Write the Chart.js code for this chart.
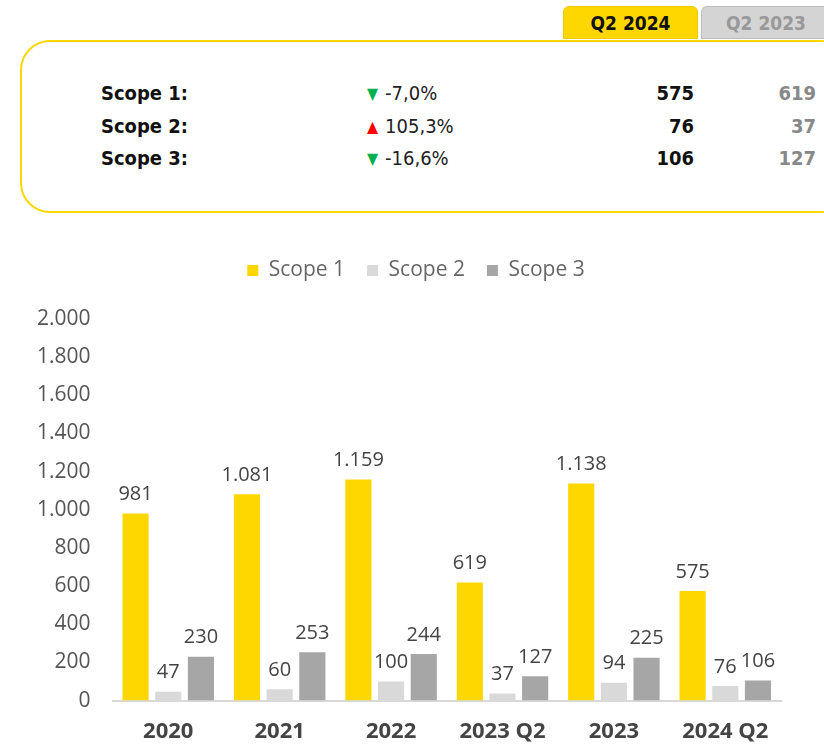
<!DOCTYPE html>
<html>
<head>
<meta charset="utf-8">
<script src="https://cdn.jsdelivr.net/npm/chart.js@4.4.1/dist/chart.umd.min.js"></script>
<style>
  body { margin: 0; background: #fff; width: 824px; height: 745px; overflow: hidden; position: relative; font-family: "Open Sans", sans-serif; }
  .tab { position: absolute; top: 6px; height: 33px; border-radius: 6px 6px 0 0; font-family: "Liberation Sans Narrow", "DejaVu Sans Condensed", sans-serif; font-weight: bold; font-size: 19px; line-height: 33px; text-align: center; box-sizing: border-box; }
  #tab1 { left: 563px; width: 135px; background: #FFD700; color: #111; border: 1px solid #f0c800; }
  #tab2 { left: 701px; width: 130px; background: #d4d4d4; color: #999; border: 1px solid #bbb; }
  #box { position: absolute; left: 20px; top: 40px; width: 830px; height: 173px; border: 2px solid #FFD700; border-radius: 30px; box-sizing: border-box; }
  .row { position: absolute; height: 30px; line-height: 30px; font-size: 20px; font-family: "Liberation Sans Narrow", "DejaVu Sans Condensed", sans-serif; }
  .lbl { position: absolute; right: 0; font-weight: bold; color: #111; }
  .pct { position: absolute; color: #222; }
  .cur { position: absolute; font-weight: bold; color: #111; text-align: right; }
  .prev { position: absolute; font-weight: bold; color: #888; text-align: right; }
  .tri { font-size: 16px; margin-right: 7px; vertical-align: 1px; }
  #wrap { position: absolute; left: 0; top: 233px; width: 824px; height: 530px; }
</style>
</head>
<body>
<div class="tab" id="tab1">Q2 2024</div>
<div class="tab" id="tab2">Q2 2023</div>
<div id="box"></div>
<div id="table"></div>
<div id="wrap"><canvas id="myChart"></canvas></div>
<script>
const categories = ['2020', '2021', '2022', '2023 Q2', '2023', '2024 Q2'];
const scope1 = [981, 1081, 1159, 619, 1138, 575];
const scope2 = [47, 60, 100, 37, 94, 76];
const scope3 = [230, 253, 244, 127, 225, 106];

const rowLabels = ['Scope 1:', 'Scope 2:', 'Scope 3:'];
const pctChange = ['-7,0%', '105,3%', '-16,6%'];
const currentVals = [575, 76, 106];
const previousVals = [619, 37, 127];

// top summary table
const table = document.getElementById('table');
rowLabels.forEach((lab, i) => {
  const top = 78 + i * 32.5;
  const up = !pctChange[i].startsWith('-');
  table.insertAdjacentHTML('beforeend',
    '<div class="row" style="left:0;width:188px;top:' + top + 'px"><span class="lbl">' + lab + '</span></div>' +
    '<div class="row" style="left:367px;top:' + top + 'px"><span class="pct" style="white-space:nowrap">' +
      '<span class="tri" style="color:' + (up ? '#ff0000' : '#00b050') + '">' + (up ? '\u25B2' : '\u25BC') + '</span>' + pctChange[i] + '</span></div>' +
    '<div class="row" style="left:594px;width:100px;top:' + top + 'px"><span class="cur" style="right:0">' + currentVals[i] + '</span></div>' +
    '<div class="row" style="left:716px;width:100px;top:' + top + 'px"><span class="prev" style="right:0">' + previousVals[i] + '</span></div>');
});

function fmt(v) {
  return String(v).replace(/\B(?=(\d{3})+(?!\d))/g, '.');
}

const valueLabels = {
  id: 'valueLabels',
  afterDatasetsDraw(chart) {
    const c = chart.ctx;
    c.save();
    c.font = '20px "Open Sans", sans-serif';
    c.fillStyle = '#444';
    c.textAlign = 'center';
    c.textBaseline = 'bottom';
    chart.data.datasets.forEach((ds, i) => {
      chart.getDatasetMeta(i).data.forEach((el, j) => {
        c.fillText(fmt(ds.data[j]), el.x, el.y - 9);
      });
    });
    c.restore();
  }
};

// extra room under the legend, and nudge it right
const legendGap = {
  id: 'legendGap',
  beforeInit(chart) {
    const fit = chart.legend.fit;
    chart.legend.fit = function () {
      fit.bind(chart.legend)();
      this.height += 28;
    };
  },
  afterLayout(chart) {
    chart.legend.left += 18;
    chart.legend.right += 18;
  }
};

const ctx = document.getElementById('myChart');
new Chart(ctx, {
  type: 'bar',
  data: {
    labels: categories,
    datasets: [
      { label: 'Scope 1', data: scope1, backgroundColor: '#FFD700' },
      { label: 'Scope 2', data: scope2, backgroundColor: '#D9D9D9' },
      { label: 'Scope 3', data: scope3, backgroundColor: '#A6A6A6' }
    ]
  },
  options: {
    responsive: true,
    maintainAspectRatio: false,
    animation: false,
    layout: { padding: { left: 15, right: 43, top: 5, bottom: 0 } },
    datasets: { bar: { categoryPercentage: 0.88, barPercentage: 0.8 } },
    plugins: {
      legend: {
        labels: {
          boxWidth: 11, boxHeight: 11, padding: 22,
          color: '#666',
          font: { size: 21, family: '"Open Sans", sans-serif' }
        }
      },
      tooltip: { enabled: false }
    },
    scales: {
      x: {
        grid: { display: false, drawTicks: false },
        border: { color: '#d9d9d9', width: 2 },
        ticks: { color: '#444', padding: 18, font: { size: 22, weight: 'bold', family: '"Open Sans", sans-serif' } }
      },
      y: {
        min: 0, max: 2000,
        grid: { display: false, drawTicks: false },
        border: { display: false },
        ticks: {
          stepSize: 200, padding: 22, color: '#555',
          font: { size: 21, family: '"Open Sans", sans-serif' },
          callback: v => fmt(v)
        }
      }
    }
  },
  plugins: [valueLabels, legendGap]
});
</script>
</body>
</html>
